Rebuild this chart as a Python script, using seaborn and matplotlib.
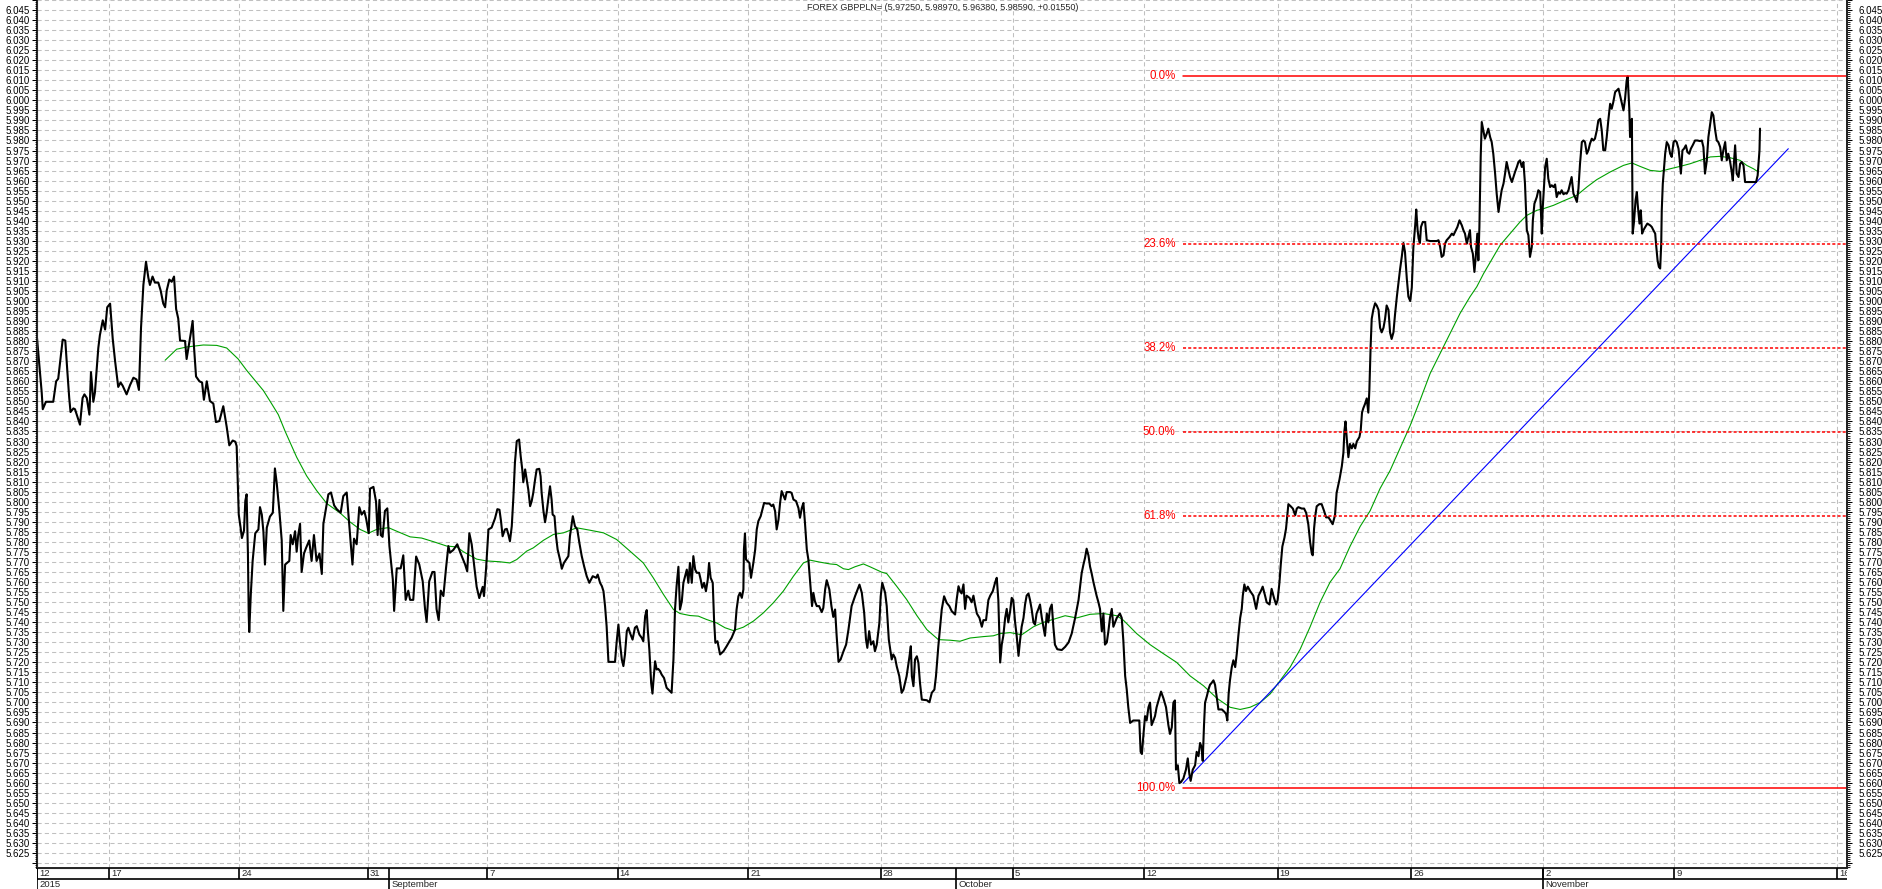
import numpy as np
import pandas as pd
import seaborn as sns
import matplotlib.pyplot as plt
from matplotlib.ticker import MultipleLocator, FuncFormatter

# x = trading days counted from Aug 12 2015 (left edge of chart)
seg_aug = [(0.00, 5.8816), (0.18, 5.8544), (0.22, 5.8461), (0.34, 5.8498), (0.62, 5.8498), (0.73, 5.8600),
           (0.81, 5.8613), (0.92, 5.8738), (0.98, 5.8808), (1.08, 5.8803), (1.16, 5.8646), (1.23, 5.8517),
           (1.28, 5.8447), (1.39, 5.8465), (1.45, 5.8461), (1.54, 5.8425), (1.64, 5.8384), (1.74, 5.8517),
           (1.81, 5.8535), (1.90, 5.8517), (2.00, 5.8434), (2.06, 5.8646), (2.11, 5.8563), (2.15, 5.8498),
           (2.21, 5.8544), (2.34, 5.8766), (2.40, 5.8830), (2.51, 5.8904), (2.60, 5.8858), (2.68, 5.8969),
           (2.79, 5.8987), (2.89, 5.8812), (2.98, 5.8701), (3.10, 5.8572), (3.19, 5.8594), (3.27, 5.8578),
           (3.42, 5.8535), (3.55, 5.8581), (3.68, 5.8618), (3.80, 5.8609), (3.89, 5.8557), (3.97, 5.8867),
           (4.06, 5.9080), (4.16, 5.9196), (4.25, 5.9116), (4.31, 5.9080), (4.41, 5.9122), (4.50, 5.9092),
           (4.63, 5.9092), (4.72, 5.9052), (4.82, 5.8987), (4.89, 5.8969), (4.95, 5.9052), (5.05, 5.9107),
           (5.14, 5.9096), (5.23, 5.9122), (5.31, 5.8960), (5.39, 5.8913), (5.46, 5.8803), (5.65, 5.8801),
           (5.71, 5.8711), (5.79, 5.8775), (5.87, 5.8840), (5.94, 5.8901), (5.99, 5.8775), (6.07, 5.8624),
           (6.20, 5.8600), (6.30, 5.8594), (6.37, 5.8508), (6.48, 5.8600), (6.60, 5.8502), (6.73, 5.8489),
           (6.83, 5.8397), (6.96, 5.8402), (7.11, 5.8476), (7.24, 5.8373), (7.34, 5.8281), (7.47, 5.8305),
           (7.57, 5.8299), (7.62, 5.8277), (7.70, 5.7936), (7.77, 5.7871), (7.82, 5.7819), (7.90, 5.7856),
           (7.95, 5.8004), (8.00, 5.8037), (8.05, 5.7742), (8.08, 5.7437), (8.10, 5.7351), (8.16, 5.7539),
           (8.23, 5.7705), (8.33, 5.7843), (8.45, 5.7862), (8.51, 5.7973), (8.58, 5.7936), (8.64, 5.7853),
           (8.70, 5.7687), (8.77, 5.7871), (8.89, 5.7926), (9.00, 5.7945), (9.08, 5.8166), (9.15, 5.8092),
           (9.25, 5.7954), (9.34, 5.7807), (9.40, 5.7456), (9.47, 5.7687), (9.63, 5.7705), (9.68, 5.7834),
           (9.76, 5.7788), (9.85, 5.7853), (9.91, 5.7751), (9.97, 5.7834), (10.04, 5.7890), (10.10, 5.7650),
           (10.19, 5.7742), (10.27, 5.7770), (10.39, 5.7807), (10.48, 5.7705), (10.57, 5.7834), (10.67, 5.7705),
           (10.78, 5.7742), (10.87, 5.7640), (10.93, 5.7890), (10.99, 5.7936), (11.12, 5.8037), (11.22, 5.8046),
           (11.34, 5.7982), (11.44, 5.7963), (11.59, 5.7945), (11.69, 5.8028), (11.82, 5.8046), (11.88, 5.7945),
           (11.97, 5.7798), (12.04, 5.7687), (12.10, 5.7816), (12.20, 5.7788), (12.30, 5.7973), (12.39, 5.7936),
           (12.49, 5.7954), (12.56, 5.7917), (12.66, 5.7843), (12.71, 5.8065), (12.84, 5.8074), (12.94, 5.8000),
           (13.00, 5.7834), (13.07, 5.8009), (13.12, 5.7834), (13.19, 5.7825), (13.28, 5.7954), (13.37, 5.7967),
           (13.45, 5.7779), (13.58, 5.7613), (13.63, 5.7456), (13.73, 5.7668), (13.88, 5.7668), (13.98, 5.7733),
           (14.07, 5.7511), (14.17, 5.7557), (14.24, 5.7511), (14.36, 5.7511), (14.47, 5.7727), (14.59, 5.7687),
           (14.72, 5.7604), (14.81, 5.7465), (14.87, 5.7401), (14.97, 5.7604), (15.09, 5.7650), (15.17, 5.7650),
           (15.25, 5.7465), (15.33, 5.7410), (15.41, 5.7557), (15.51, 5.7530), (15.61, 5.7668), (15.70, 5.7779),
           (15.76, 5.7746), (15.89, 5.7760), (16.04, 5.7788), (16.17, 5.7742), (16.34, 5.7687), (16.42, 5.7653),
           (16.50, 5.7843), (16.59, 5.7788), (16.69, 5.7677), (16.78, 5.7576), (16.88, 5.7520), (17.01, 5.7576),
           (17.06, 5.7530), (17.14, 5.7668), (17.23, 5.7862), (17.35, 5.7871), (17.48, 5.7917), (17.57, 5.7963),
           (17.65, 5.7960)]

seg_sep = [(17.71, 5.7903), (17.77, 5.7828), (17.86, 5.7862), (17.93, 5.7865), (17.99, 5.7837), (18.05, 5.7803),
           (18.12, 5.7878), (18.18, 5.8019), (18.24, 5.8194), (18.31, 5.8302), (18.40, 5.8310), (18.46, 5.8227),
           (18.52, 5.8161), (18.56, 5.8097), (18.63, 5.8161), (18.69, 5.8111), (18.75, 5.8061), (18.82, 5.7978),
           (18.88, 5.8003), (18.94, 5.8044), (19.01, 5.8111), (19.07, 5.8161), (19.17, 5.8164), (19.22, 5.8127),
           (19.26, 5.8044), (19.33, 5.7953), (19.39, 5.7898), (19.45, 5.7945), (19.52, 5.8019), (19.58, 5.8077),
           (19.64, 5.8011), (19.68, 5.7936), (19.75, 5.7928), (19.81, 5.7828), (19.87, 5.7762), (19.96, 5.7712),
           (20.03, 5.7666), (20.11, 5.7695), (20.28, 5.7729), (20.34, 5.7828), (20.45, 5.7928), (20.53, 5.7878),
           (20.62, 5.7862), (20.70, 5.7795), (20.79, 5.7729), (20.88, 5.7679), (20.98, 5.7629), (21.08, 5.7596),
           (21.21, 5.7629), (21.34, 5.7621), (21.40, 5.7637), (21.49, 5.7596), (21.56, 5.7579), (21.62, 5.7554),
           (21.68, 5.7480), (21.74, 5.7380), (21.81, 5.7202), (22.06, 5.7202), (22.12, 5.7297), (22.19, 5.7388),
           (22.25, 5.7297), (22.32, 5.7214), (22.38, 5.7181), (22.44, 5.7239), (22.51, 5.7355), (22.57, 5.7372),
           (22.63, 5.7347), (22.73, 5.7313), (22.82, 5.7372), (22.89, 5.7380), (22.99, 5.7338), (23.08, 5.7322),
           (23.14, 5.7305), (23.21, 5.7430), (23.27, 5.7460), (23.31, 5.7363), (23.37, 5.7264), (23.44, 5.7097),
           (23.49, 5.7044), (23.52, 5.7097), (23.59, 5.7205), (23.65, 5.7164), (23.71, 5.7167), (23.78, 5.7156),
           (23.84, 5.7139), (23.93, 5.7122), (24.03, 5.7073), (24.16, 5.7056), (24.22, 5.7048), (24.29, 5.7214),
           (24.35, 5.7463), (24.41, 5.7579), (24.48, 5.7676), (24.54, 5.7463), (24.61, 5.7504), (24.67, 5.7596),
           (24.80, 5.7662), (24.86, 5.7596), (24.92, 5.7695), (24.99, 5.7596), (25.05, 5.7729), (25.12, 5.7662),
           (25.18, 5.7646), (25.27, 5.7646), (25.33, 5.7612), (25.39, 5.7571), (25.46, 5.7596), (25.53, 5.7554),
           (25.60, 5.7612), (25.65, 5.7695), (25.71, 5.7621), (25.79, 5.7596), (25.84, 5.7413), (25.89, 5.7297),
           (25.97, 5.7305), (26.07, 5.7239), (26.20, 5.7255), (26.32, 5.7280), (26.43, 5.7305), (26.51, 5.7322),
           (26.64, 5.7363), (26.70, 5.7463), (26.77, 5.7529), (26.83, 5.7546), (26.90, 5.7521), (26.96, 5.7563),
           (26.98, 5.7762), (27.02, 5.7842), (27.06, 5.7712), (27.12, 5.7704), (27.19, 5.7695), (27.25, 5.7621),
           (27.34, 5.7695), (27.41, 5.7762), (27.47, 5.7862), (27.53, 5.7903), (27.62, 5.7928), (27.75, 5.7994),
           (27.85, 5.7991), (27.95, 5.7991), (28.04, 5.7978), (28.10, 5.7986), (28.17, 5.7953), (28.23, 5.7862),
           (28.30, 5.7911), (28.36, 5.7994), (28.42, 5.8053), (28.55, 5.8011), (28.61, 5.8048), (28.74, 5.8048),
           (28.80, 5.8044), (28.87, 5.8011), (28.97, 5.8003), (29.06, 5.7969), (29.12, 5.7920), (29.19, 5.7969),
           (29.25, 5.7994), (29.31, 5.7895), (29.38, 5.7762), (29.44, 5.7712), (29.50, 5.7612), (29.58, 5.7480),
           (29.63, 5.7546), (29.69, 5.7504), (29.76, 5.7480), (29.85, 5.7480), (29.95, 5.7450), (30.01, 5.7471),
           (30.08, 5.7563), (30.14, 5.7609), (30.24, 5.7563), (30.32, 5.7480), (30.39, 5.7426), (30.46, 5.7463),
           (30.52, 5.7330), (30.59, 5.7202), (30.67, 5.7214), (30.78, 5.7255), (30.88, 5.7288), (30.97, 5.7363),
           (31.09, 5.7480), (31.22, 5.7529), (31.39, 5.7587), (31.48, 5.7546), (31.57, 5.7446), (31.64, 5.7313),
           (31.69, 5.7272), (31.76, 5.7355), (31.83, 5.7288), (31.92, 5.7305), (31.98, 5.7255), (32.05, 5.7288),
           (32.15, 5.7396), (32.20, 5.7529), (32.26, 5.7596), (32.37, 5.7546), (32.43, 5.7480), (32.51, 5.7313),
           (32.62, 5.7214), (32.68, 5.7239), (32.75, 5.7222), (32.81, 5.7181), (32.91, 5.7131), (33.00, 5.7048),
           (33.07, 5.7064), (33.19, 5.7131), (33.30, 5.7230), (33.35, 5.7280), (33.39, 5.7131), (33.45, 5.7081),
           (33.51, 5.7214), (33.58, 5.7230), (33.64, 5.7197), (33.70, 5.7097), (33.77, 5.7014), (33.96, 5.7011),
           (34.06, 5.7001), (34.15, 5.7048), (34.25, 5.7064), (34.31, 5.7131), (34.40, 5.7280), (34.53, 5.7463),
           (34.62, 5.7529), (34.72, 5.7496), (34.82, 5.7480), (34.91, 5.7455), (35.04, 5.7438), (35.10, 5.7513),
           (35.17, 5.7579), (35.23, 5.7554)]

seg_oct = [(35.29, 5.7543), (35.36, 5.7588), (35.42, 5.7466), (35.48, 5.7532), (35.59, 5.7521), (35.67, 5.7499),
           (35.74, 5.7532), (35.80, 5.7488), (35.87, 5.7443), (35.97, 5.7421), (36.06, 5.7377), (36.12, 5.7410),
           (36.22, 5.7410), (36.31, 5.7510), (36.38, 5.7532), (36.48, 5.7555), (36.57, 5.7599), (36.63, 5.7621),
           (36.69, 5.7510), (36.76, 5.7199), (36.82, 5.7288), (36.88, 5.7332), (36.95, 5.7421), (37.01, 5.7466),
           (37.07, 5.7399), (37.14, 5.7454), (37.20, 5.7521), (37.26, 5.7510), (37.33, 5.7399), (37.39, 5.7332),
           (37.46, 5.7232), (37.52, 5.7310), (37.58, 5.7377), (37.65, 5.7421), (37.71, 5.7488), (37.77, 5.7532),
           (37.84, 5.7543), (37.90, 5.7510), (37.96, 5.7466), (38.03, 5.7399), (38.09, 5.7388), (38.15, 5.7443),
           (38.22, 5.7466), (38.28, 5.7488), (38.35, 5.7421), (38.41, 5.7377), (38.47, 5.7332), (38.54, 5.7443),
           (38.60, 5.7399), (38.66, 5.7466), (38.73, 5.7488), (38.79, 5.7377), (38.85, 5.7288), (38.94, 5.7265),
           (39.11, 5.7261), (39.24, 5.7277), (39.37, 5.7299), (39.49, 5.7343), (39.62, 5.7421), (39.75, 5.7510),
           (39.81, 5.7577), (39.87, 5.7644), (39.94, 5.7688), (40.00, 5.7721), (40.06, 5.7766), (40.13, 5.7732),
           (40.19, 5.7677), (40.25, 5.7644), (40.32, 5.7599), (40.38, 5.7566), (40.44, 5.7532), (40.51, 5.7499),
           (40.57, 5.7466), (40.64, 5.7354), (40.70, 5.7443), (40.76, 5.7288), (40.83, 5.7299), (40.89, 5.7354),
           (40.95, 5.7421), (41.02, 5.7466), (41.08, 5.7377), (41.21, 5.7421), (41.33, 5.7443), (41.40, 5.7421),
           (41.46, 5.7310), (41.53, 5.7132), (41.59, 5.7065), (41.65, 5.6976), (41.72, 5.6898), (41.84, 5.6910),
           (42.07, 5.6910), (42.12, 5.6754), (42.17, 5.6743), (42.23, 5.6843), (42.29, 5.6932), (42.35, 5.6910),
           (42.42, 5.6976), (42.48, 5.6999), (42.54, 5.6887), (42.61, 5.6910), (42.67, 5.6932), (42.73, 5.6976),
           (42.83, 5.7021), (42.90, 5.7054), (42.99, 5.7021), (43.09, 5.6976), (43.18, 5.6887), (43.24, 5.6843),
           (43.31, 5.6876), (43.37, 5.6999), (43.43, 5.7010), (43.47, 5.6665), (43.54, 5.6687), (43.60, 5.6598),
           (43.66, 5.6603), (43.75, 5.6620), (43.85, 5.6665), (43.92, 5.6721), (43.98, 5.6643), (44.03, 5.6609),
           (44.11, 5.6665), (44.20, 5.6687), (44.26, 5.6754), (44.33, 5.6732), (44.39, 5.6798), (44.45, 5.6776),
           (44.49, 5.6709), (44.54, 5.6887), (44.58, 5.6999), (44.65, 5.7032), (44.71, 5.7065), (44.77, 5.7088),
           (44.84, 5.7099), (44.90, 5.7110), (44.96, 5.7088), (45.03, 5.7021), (45.09, 5.6965), (45.22, 5.6965),
           (45.31, 5.6954), (45.38, 5.6943), (45.43, 5.6910), (45.48, 5.7043), (45.53, 5.7110), (45.60, 5.7176),
           (45.66, 5.7210), (45.73, 5.7176), (45.79, 5.7243), (45.85, 5.7332), (45.92, 5.7421), (45.98, 5.7466),
           (46.02, 5.7532), (46.08, 5.7588), (46.14, 5.7555), (46.21, 5.7577), (46.30, 5.7555), (46.42, 5.7532),
           (46.53, 5.7466), (46.62, 5.7532), (46.71, 5.7555), (46.78, 5.7577), (46.87, 5.7532), (46.93, 5.7499),
           (47.04, 5.7488), (47.12, 5.7566), (47.21, 5.7521), (47.29, 5.7488), (47.35, 5.7510), (47.42, 5.7599),
           (47.47, 5.7688), (47.53, 5.7777), (47.61, 5.7821), (47.67, 5.7866), (47.76, 5.7988), (47.85, 5.7977),
           (47.93, 5.7966), (48.02, 5.7933), (48.08, 5.7966), (48.14, 5.7973), (48.27, 5.7966), (48.36, 5.7966),
           (48.44, 5.7944), (48.52, 5.7888), (48.59, 5.7799), (48.65, 5.7744), (48.69, 5.7733), (48.74, 5.7866),
           (48.79, 5.7933), (48.84, 5.7977), (48.94, 5.7988), (49.03, 5.7988), (49.12, 5.7955), (49.20, 5.7922),
           (49.29, 5.7922), (49.35, 5.7910), (49.45, 5.7888), (49.54, 5.7933), (49.60, 5.8044), (49.71, 5.8111),
           (49.80, 5.8177), (49.86, 5.8244), (49.90, 5.8355), (49.94, 5.8400), (49.99, 5.8311), (50.05, 5.8222),
           (50.11, 5.8288), (50.18, 5.8266), (50.24, 5.8288), (50.31, 5.8266), (50.37, 5.8300), (50.47, 5.8322),
           (50.52, 5.8355), (50.57, 5.8444), (50.62, 5.8466), (50.69, 5.8489), (50.75, 5.8515), (50.81, 5.8444),
           (50.85, 5.8555), (50.90, 5.8778), (50.94, 5.8911), (51.00, 5.8956), (51.07, 5.8989), (51.13, 5.8978),
           (51.20, 5.8956), (51.26, 5.8867), (51.32, 5.8844), (51.39, 5.8867), (51.45, 5.8911), (51.51, 5.8978),
           (51.58, 5.8956), (51.64, 5.8844), (51.70, 5.8811), (51.77, 5.8844), (51.83, 5.8933), (51.90, 5.9022),
           (51.96, 5.9089), (52.02, 5.9156), (52.09, 5.9223), (52.15, 5.9289), (52.21, 5.9245), (52.28, 5.9111),
           (52.34, 5.9022), (52.41, 5.9000), (52.47, 5.9067), (52.53, 5.9267), (52.60, 5.9378), (52.64, 5.9456),
           (52.69, 5.9356), (52.73, 5.9312), (52.78, 5.9289)]

seg_nov = [(52.82, 5.9369), (52.89, 5.9394), (52.98, 5.9394), (53.04, 5.9303), (53.17, 5.9299), (53.42, 5.9299),
           (53.49, 5.9303), (53.55, 5.9270), (53.61, 5.9220), (53.68, 5.9228), (53.74, 5.9286), (53.80, 5.9303),
           (53.91, 5.9319), (54.00, 5.9336), (54.06, 5.9328), (54.12, 5.9344), (54.21, 5.9369), (54.29, 5.9402),
           (54.38, 5.9377), (54.44, 5.9353), (54.50, 5.9336), (54.57, 5.9286), (54.63, 5.9319), (54.69, 5.9353),
           (54.73, 5.9270), (54.80, 5.9236), (54.86, 5.9145), (54.92, 5.9236), (54.97, 5.9336), (55.01, 5.9203),
           (55.05, 5.9369), (55.10, 5.9718), (55.14, 5.9892), (55.20, 5.9850), (55.26, 5.9809), (55.33, 5.9834),
           (55.39, 5.9859), (55.46, 5.9817), (55.52, 5.9792), (55.58, 5.9734), (55.65, 5.9635), (55.71, 5.9535),
           (55.78, 5.9444), (55.84, 5.9502), (55.90, 5.9552), (55.97, 5.9585), (56.03, 5.9635), (56.09, 5.9693),
           (56.16, 5.9651), (56.22, 5.9618), (56.29, 5.9593), (56.35, 5.9618), (56.41, 5.9643), (56.48, 5.9668),
           (56.54, 5.9693), (56.60, 5.9701), (56.67, 5.9668), (56.73, 5.9693), (56.79, 5.9585), (56.86, 5.9353),
           (56.92, 5.9328), (56.98, 5.9220), (57.05, 5.9270), (57.09, 5.9402), (57.15, 5.9485), (57.24, 5.9518),
           (57.30, 5.9552), (57.37, 5.9543), (57.43, 5.9336), (57.47, 5.9469), (57.52, 5.9585), (57.56, 5.9668),
           (57.62, 5.9709), (57.68, 5.9610), (57.75, 5.9568), (57.81, 5.9577), (57.88, 5.9568), (57.94, 5.9581),
           (58.00, 5.9518), (58.07, 5.9543), (58.13, 5.9535), (58.19, 5.9552), (58.26, 5.9532), (58.32, 5.9538),
           (58.38, 5.9535), (58.45, 5.9552), (58.51, 5.9585), (58.57, 5.9618), (58.64, 5.9535), (58.70, 5.9518),
           (58.77, 5.9494), (58.83, 5.9560), (58.89, 5.9684), (58.96, 5.9792), (59.02, 5.9800), (59.08, 5.9792),
           (59.15, 5.9734), (59.21, 5.9751), (59.27, 5.9784), (59.34, 5.9809), (59.40, 5.9800), (59.46, 5.9809),
           (59.53, 5.9850), (59.59, 5.9900), (59.66, 5.9908), (59.72, 5.9850), (59.78, 5.9751), (59.85, 5.9751),
           (59.91, 5.9817), (59.97, 5.9900), (60.04, 5.9983), (60.10, 5.9958), (60.16, 5.9991), (60.23, 6.0041),
           (60.29, 6.0049), (60.36, 6.0058), (60.42, 6.0024), (60.48, 5.9991), (60.55, 5.9950), (60.61, 6.0008),
           (60.67, 6.0099), (60.71, 6.0119), (60.77, 5.9958), (60.80, 5.9817), (60.87, 5.9908), (60.90, 5.9336),
           (60.95, 5.9394), (61.01, 5.9502), (61.06, 5.9543), (61.09, 5.9485), (61.16, 5.9386), (61.21, 5.9452),
           (61.26, 5.9336), (61.31, 5.9353), (61.38, 5.9369), (61.46, 5.9386), (61.57, 5.9377), (61.63, 5.9369),
           (61.69, 5.9353), (61.76, 5.9336), (61.79, 5.9286), (61.85, 5.9203), (61.90, 5.9170), (61.95, 5.9162),
           (61.99, 5.9286), (62.01, 5.9452), (62.05, 5.9585), (62.10, 5.9668), (62.14, 5.9734), (62.20, 5.9792),
           (62.27, 5.9776), (62.33, 5.9734), (62.39, 5.9718), (62.46, 5.9792), (62.52, 5.9800), (62.58, 5.9792),
           (62.65, 5.9759), (62.69, 5.9709), (62.74, 5.9635), (62.80, 5.9751), (62.86, 5.9759), (62.93, 5.9776),
           (62.99, 5.9742), (63.06, 5.9734), (63.12, 5.9759), (63.19, 5.9776), (63.28, 5.9800), (63.37, 5.9800),
           (63.47, 5.9797), (63.54, 5.9800), (63.60, 5.9767), (63.66, 5.9635), (63.73, 5.9701), (63.79, 5.9817),
           (63.86, 5.9883), (63.92, 5.9941), (63.98, 5.9925), (64.05, 5.9850), (64.11, 5.9800), (64.17, 5.9792),
           (64.24, 5.9767), (64.30, 5.9701), (64.36, 5.9751), (64.43, 5.9792), (64.49, 5.9701), (64.55, 5.9734),
           (64.62, 5.9693), (64.68, 5.9643), (64.72, 5.9601), (64.77, 5.9701), (64.81, 5.9776), (64.87, 5.9635),
           (64.94, 5.9618), (65.00, 5.9684), (65.06, 5.9693), (65.13, 5.9676), (65.19, 5.9593), (65.61, 5.9593),
           (65.67, 5.9626), (65.74, 5.9751), (65.76, 5.9859)]

# green moving average
ma_line = [(4.89, 5.8705), (5.33, 5.8760), (5.71, 5.8771), (6.35, 5.8781), (6.86, 5.8779), (7.24, 5.8766),
           (7.68, 5.8711), (8.00, 5.8655), (8.64, 5.8554), (8.89, 5.8502), (9.21, 5.8434), (9.47, 5.8351),
           (9.91, 5.8222), (10.29, 5.8129), (10.67, 5.8056), (11.06, 5.7991), (11.56, 5.7945), (11.95, 5.7899),
           (12.33, 5.7862), (12.65, 5.7843), (12.96, 5.7862), (13.41, 5.7871), (13.73, 5.7853), (14.24, 5.7825),
           (14.68, 5.7819), (15.13, 5.7801), (15.64, 5.7779), (16.02, 5.7775), (16.27, 5.7751), (16.78, 5.7714),
           (17.16, 5.7705), (17.65, 5.7701), (18.05, 5.7695), (18.31, 5.7712), (18.69, 5.7754), (18.94, 5.7770),
           (19.33, 5.7808), (19.71, 5.7837), (20.09, 5.7845), (20.60, 5.7870), (21.11, 5.7858), (21.62, 5.7845),
           (22.12, 5.7812), (22.63, 5.7754), (23.14, 5.7695), (23.52, 5.7621), (23.91, 5.7538), (24.29, 5.7463),
           (24.54, 5.7443), (24.92, 5.7433), (25.24, 5.7430), (25.56, 5.7413), (25.94, 5.7396), (26.26, 5.7372),
           (26.58, 5.7358), (26.96, 5.7375), (27.34, 5.7405), (27.72, 5.7446), (28.10, 5.7496), (28.48, 5.7554),
           (28.87, 5.7629), (29.25, 5.7695), (29.50, 5.7709), (29.88, 5.7699), (30.27, 5.7690), (30.52, 5.7687),
           (30.78, 5.7666), (30.97, 5.7662), (31.22, 5.7676), (31.54, 5.7690), (31.79, 5.7676), (32.24, 5.7649),
           (32.43, 5.7642), (32.81, 5.7579), (33.19, 5.7513), (33.58, 5.7433), (33.96, 5.7363), (34.40, 5.7313),
           (34.85, 5.7310), (35.23, 5.7305), (35.61, 5.7321), (36.12, 5.7328), (36.50, 5.7332), (36.76, 5.7343),
           (37.14, 5.7348), (37.58, 5.7337), (38.03, 5.7377), (38.41, 5.7399), (38.79, 5.7414), (39.24, 5.7432),
           (39.68, 5.7421), (40.19, 5.7439), (40.70, 5.7443), (41.21, 5.7432), (41.46, 5.7410), (41.97, 5.7343),
           (42.48, 5.7288), (42.99, 5.7243), (43.50, 5.7199), (44.01, 5.7132), (44.52, 5.7083), (45.03, 5.7021),
           (45.53, 5.6976), (45.92, 5.6965), (46.30, 5.6976), (46.68, 5.6999), (47.07, 5.7043), (47.45, 5.7110),
           (47.83, 5.7176), (48.21, 5.7265), (48.59, 5.7377), (48.97, 5.7499), (49.35, 5.7599), (49.73, 5.7666),
           (50.11, 5.7777), (50.50, 5.7877), (50.88, 5.7955), (51.26, 5.8066), (51.64, 5.8155), (52.02, 5.8266),
           (52.41, 5.8380), (52.79, 5.8507), (53.17, 5.8639), (53.55, 5.8739), (53.93, 5.8838), (54.31, 5.8938),
           (54.69, 5.9021), (54.95, 5.9071), (55.21, 5.9137), (55.58, 5.9220), (55.84, 5.9278), (56.22, 5.9336),
           (56.60, 5.9394), (56.86, 5.9427), (57.24, 5.9452), (57.49, 5.9460), (57.88, 5.9477), (58.26, 5.9499),
           (58.77, 5.9527), (59.15, 5.9568), (59.53, 5.9605), (60.04, 5.9643), (60.55, 5.9676), (60.87, 5.9688),
           (61.18, 5.9671), (61.57, 5.9651), (61.95, 5.9646), (62.33, 5.9659), (62.71, 5.9671), (63.09, 5.9684),
           (63.47, 5.9701), (63.86, 5.9718), (64.24, 5.9721), (64.62, 5.9714), (65.00, 5.9701), (65.25, 5.9676),
           (65.51, 5.9659), (65.70, 5.9643)]

trend_line = [(43.75, 5.6598), (66.84, 5.9759)]

fib_high = 6.0119
fib_low = 5.6576
fib_start = 43.75
fib_levels = [0.0, 23.6, 38.2, 50.0, 61.8, 100.0]

week_ticks = [0.0, 2.75, 7.71, 12.63, 17.18, 22.16, 27.15, 32.20, 37.25, 42.25, 47.35, 52.44, 57.48, 62.48, 68.71]
week_labels = ["12", "17", "24", "31", "7", "14", "21", "28", "5", "12", "19", "26", "2", "9", "16"]
month_ticks = [0.0, 13.44, 35.08, 57.48]
month_labels = ["2015", "September", "October", "November"]

title = "FOREX GBPPLN= (5.97250, 5.98970, 5.96380, 5.98590, +0.01550)"

price = pd.DataFrame(seg_aug + seg_sep + seg_oct + seg_nov, columns=["t", "p"])
ma = pd.DataFrame(ma_line, columns=["t", "p"])
trend = pd.DataFrame(trend_line, columns=["t", "p"])

sns.set_style("white")
plt.rcParams["font.family"] = ["Liberation Sans", "DejaVu Sans"]

W, H = 1883, 889
fig = plt.figure(figsize=(W / 100, H / 100), dpi=100)
ax = fig.add_axes([37 / W, 21 / H, 1810 / W, 868 / H])
xlim = (0, 69.08)
ylim = (5.6175, 6.0500)

sns.lineplot(data=ma, x="t", y="p", color="#00a000", lw=0.8, sort=False, estimator=None, ax=ax)
sns.lineplot(data=trend, x="t", y="p", color="#0000ff", lw=0.8, sort=False, estimator=None, ax=ax)
sns.lineplot(data=price, x="t", y="p", color="black", lw=1.5, sort=False, estimator=None, ax=ax)

# fibonacci retracement
rng = fib_high - fib_low
for lv in fib_levels:
    y = fib_high - rng * lv / 100
    ls = "-" if lv in (0.0, 100.0) else (0, (2.0, 1.4))
    ax.plot([fib_start, xlim[1]], [y, y], color="#ff0000", lw=1.1, ls=ls, zorder=4)
    ax.text(fib_start - 0.3, y, f"{lv:.1f}%", color="#ff0000", fontsize=8.3,
            ha="right", va="center")

ax.set_xlim(*xlim)
ax.set_ylim(*ylim)
ax.set_xlabel("")
ax.set_ylabel("")

fmt = FuncFormatter(lambda v, _: "" if (v < 5.6225 or v > 6.0475) else f"{v:.3f}")
ax.yaxis.set_major_locator(MultipleLocator(0.005))
ax.yaxis.set_minor_locator(MultipleLocator(0.001))
ax.yaxis.set_major_formatter(fmt)
ax.set_xticks(week_ticks)
ax.tick_params(axis="x", length=0, labelbottom=False)
ax.tick_params(axis="y", which="major", direction="out", length=3.6, width=0.75, pad=1.5,
               labelsize=7, colors="black")
ax.tick_params(axis="y", which="minor", direction="out", length=1.8, width=0.75)
ax.grid(True, which="major", color="#c0c0c0", linestyle=(0, (4, 3)), linewidth=0.75)
ax.set_axisbelow(True)
ax.spines["top"].set_visible(False)
for s in ["left", "right", "bottom"]:
    ax.spines[s].set_color("black")
    ax.spines[s].set_linewidth(1.2)

ax2 = ax.twinx()
ax2.set_ylim(*ylim)
ax2.yaxis.set_major_locator(MultipleLocator(0.005))
ax2.yaxis.set_minor_locator(MultipleLocator(0.001))
ax2.yaxis.set_major_formatter(fmt)
ax2.tick_params(axis="y", which="major", direction="out", length=3.6, width=0.75, pad=5,
                labelsize=7, colors="black")
ax2.tick_params(axis="y", which="minor", direction="out", length=1.8, width=0.75)
ax2.spines["top"].set_visible(False)
ax2.spines["right"].set_linewidth(1.2)
ax2.grid(False)

# date band under the chart
band = fig.add_axes([37 / W, 0, 1810 / W, 21 / H])
band.set_xlim(*xlim)
band.set_ylim(0, 21)
band.axis("off")
band.axhline(10.5, color="black", lw=1.2)
for t, lab in zip(week_ticks, week_labels):
    band.vlines(t, 10.5, 21, color="black", lw=1.2)
    band.text(t + 0.08, 15.6, lab, fontsize=6.8, ha="left", va="center", clip_on=True)
for t, lab in zip(month_ticks, month_labels):
    band.vlines(t, 0, 21, color="black", lw=1.2)
    band.text(t + 0.08, 4.8, lab, fontsize=6.8, ha="left", va="center", clip_on=True)

fig.text(943 / W, 1 - 7 / H, title, ha="center", va="center", fontsize=6.5)

fig.savefig("out.png", dpi=100)
